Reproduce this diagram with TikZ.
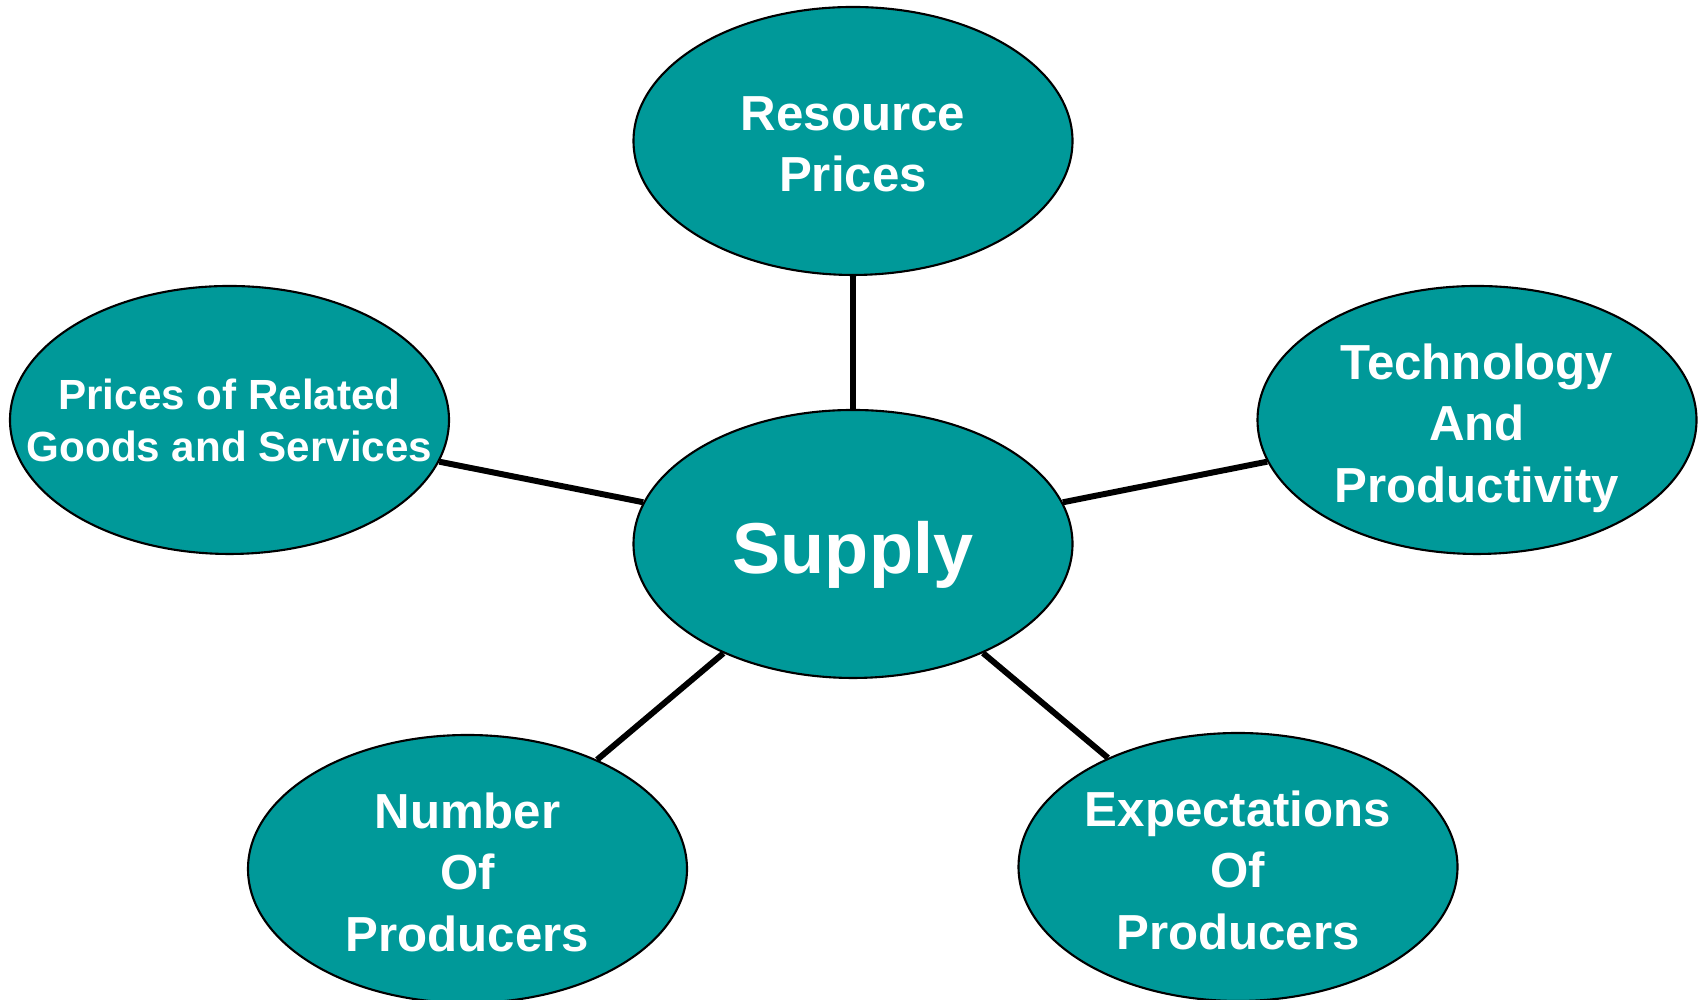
\documentclass[tikz,border=0pt]{standalone}
\usepackage{fontspec}
\setmainfont{Liberation Sans}
\usetikzlibrary{shapes.geometric}
\definecolor{bubblefill}{HTML}{009999}

\begin{document}
\begin{tikzpicture}[
  bubble/.style={ellipse, draw=black, line width=0.6pt, fill=bubblefill,
    minimum width=4.39cm, minimum height=2.68cm, inner sep=0pt},
  every label/.style={align=center, text=white, text depth=0pt, yshift=-0.03cm,
    font=\bfseries\fontsize{14}{17.5}\selectfont},
  link/.style={line width=1.7pt}]
\useasboundingbox (0,0) rectangle (17,10);

\node[bubble, label={[font=\bfseries\fontsize{20.5}{24}\selectfont]center:Supply}] (supply) at (8.53,4.56) {};
\node[bubble, label={center:Resource\\Prices}] (resource) at (8.53,8.59) {};
\node[bubble, label={[yshift=0.03cm, font=\bfseries\fontsize{12}{14.8}\selectfont]center:Prices of Related\\Goods and Services}] (related) at (2.295,5.80) {};
\node[bubble, label={center:Technology\\And\\Productivity}] (tech) at (14.77,5.80) {};
\node[bubble, label={center:Number\\Of\\Producers}] (number) at (4.675,1.31) {};
\node[bubble, label={center:Expectations\\Of\\Producers}] (expect) at (12.38,1.33) {};

\draw[link] (resource) -- (supply);
\draw[link] (related) -- (supply);
\draw[link] (tech) -- (supply);
\draw[link] (number) -- (supply);
\draw[link] (expect) -- (supply);
\end{tikzpicture}
\end{document}
